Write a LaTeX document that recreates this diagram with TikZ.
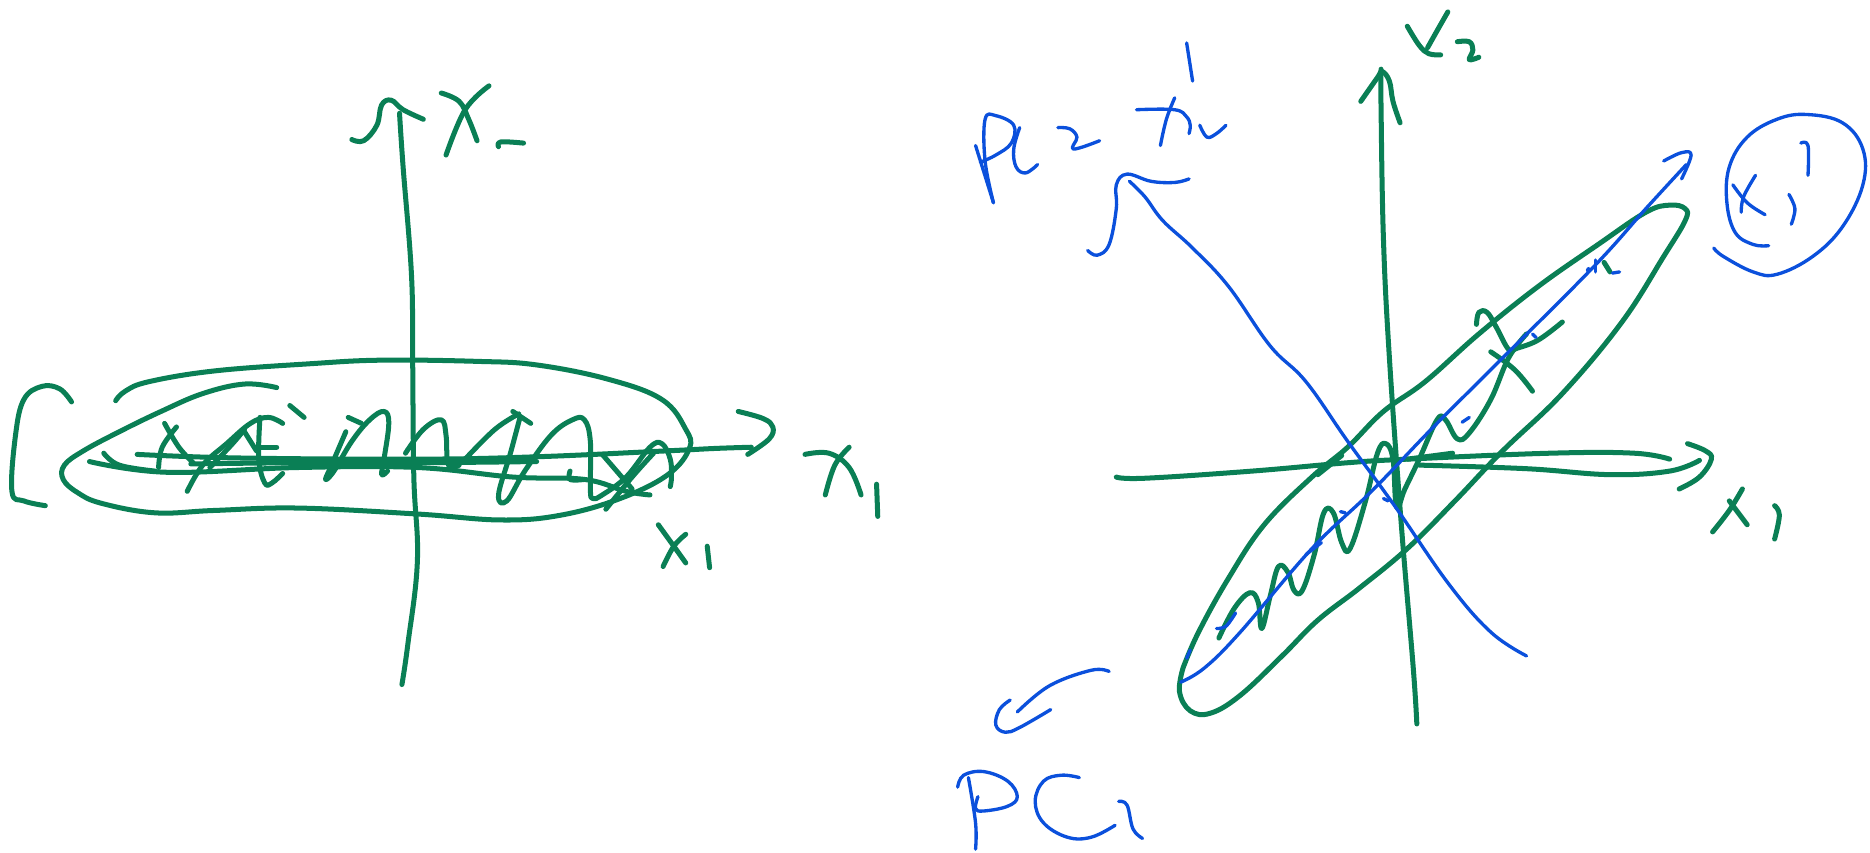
\documentclass[tikz,border=0pt]{standalone}
\definecolor{inkgreen}{HTML}{0A7F55}
\definecolor{inkblue}{HTML}{0B50DC}
\tikzset{
  greenink/.style={draw=inkgreen,line width=4.2pt,line cap=round,line join=round},
  blueink/.style={draw=inkblue,line width=2.8pt,line cap=round,line join=round}
}
\newcommand{\GS}[1]{\draw[greenink] plot[smooth,tension=0.65] coordinates {#1};}
\newcommand{\BS}[1]{\draw[blueink] plot[smooth,tension=0.65] coordinates {#1};}
\begin{document}
\begin{tikzpicture}[x=1pt,y=-1pt]
\useasboundingbox (0,0) rectangle (1568,715);
% ---- left figure: vertical axis
\GS{(337,574)(342,540)(350,470)(347,400)(346,300)(345,230)(338,140)(335,95)}
\GS{(295,117)(305,118)(316,105)(320,88)(328,84)(338,92)(355,100)}
\GS{(370,78)(385,85)(393,100)(400,118)}
\GS{(410,72)(390,92)(374,130)}
\GS{(418,123)(420,119)(439,120)}
% bracket
\GS{(60,337)(50,326)(35,324)(20,335)(13,365)(10,412)(20,420)(38,424)}
% ellipse
\GS{(232,325)(205,322)(170,330)(135,345)(100,362)(70,378)(54,390)(53,402)(65,413)(85,422)(130,430)(180,428)(250,426)(350,431)(420,436)(470,432)(520,418)(560,398)(578,376)(575,360)(555,335)(510,318)(450,306)(400,303)(320,302)(260,305)(180,311)(125,320)(105,328)(97,336)}
% horizontal axis strokes
\GS{(115,381)(200,384)(350,385)(450,383)(560,378)(600,376)(630,375)}
\GS{(75,387)(140,396)(250,392)(350,392)(430,400)(490,402)(525,412)(545,415)}
\GS{(87,380)(100,390)(130,395)}
\GS{(160,389)(250,388)(350,388)(450,387)}
\GS{(619,345)(640,351)(648,358)(645,368)(627,381)}
% zigzag and crosses
\GS{(138,355)(150,375)(162,388)}
\GS{(148,358)(136,375)(133,392)}
\GS{(157,412)(170,390)(190,372)(210,355)(225,350)(237,355)}
\GS{(218,350)(217,385)(222,405)(228,405)(237,397)}
\GS{(205,362)(215,378)}
\GS{(176,392)(195,372)(205,360)}
\GS{(215,375)(232,375)}
\GS{(243,340)(255,350)}
\GS{(292,350)(303,355)}
\GS{(290,362)(278,390)(273,402)(280,395)(295,370)(310,352)(322,345)(326,355)(322,385)(320,398)(325,395)}
\GS{(340,380)(355,360)(370,352)(374,365)(375,385)(378,392)(385,390)}
\GS{(390,385)(415,360)(435,347)}
\GS{(430,345)(445,355)}
\GS{(436,350)(428,380)(418,415)(425,420)(440,395)(462,365)(480,352)(490,352)(495,370)(495,410)(497,418)(505,415)(525,400)(545,375)(555,372)(562,385)(563,400)(562,408)}
\GS{(505,381)(530,410)}
\GS{(508,427)(530,400)(548,380)}
\GS{(478,395)(478,402)(490,402)}
% labels near axis
\GS{(552,440)(565,458)(575,472)}
\GS{(575,448)(565,458)(556,475)}
\GS{(593,458)(595,476)}
\GS{(675,381)(695,380)(712,392)(722,415)}
\GS{(712,375)(700,390)(692,415)}
\GS{(735,406)(736,433)}
% ---- right figure
\GS{(1188,607)(1185,560)(1175,440)(1165,300)(1160,200)(1158,90)(1158,58)}
\GS{(1141,85)(1155,65)(1159,60)(1165,68)(1168,85)(1174,103)}
\GS{(1180,22)(1190,38)(1198,45)(1208,46)}
\GS{(1214,10)(1206,24)(1197,40)}
\GS{(1222,35)(1232,35)(1235,42)(1232,50)(1240,48)}
\GS{(936,400)(960,401)(1050,395)(1130,388)(1180,385)(1300,380)(1370,380)(1400,385)}
\GS{(1190,390)(1280,393)(1350,398)(1400,395)(1425,386)}
\GS{(1415,372)(1430,378)(1435,385)(1425,400)(1408,410)}
\GS{(1461,410)(1450,428)(1436,446)}
\GS{(1450,420)(1465,440)}
\GS{(1488,424)(1492,432)(1488,452)}
% right ellipse
\GS{(992,560)(989,580)(998,596)(1015,598)(1040,583)(1075,550)(1105,520)(1140,493)(1180,460)(1220,420)(1260,378)(1310,330)(1360,270)(1395,215)(1413,185)(1413,175)(1400,172)(1380,178)(1340,205)(1290,240)(1240,280)(1195,320)(1160,345)(1130,375)(1100,400)(1060,440)(1030,485)(1005,530)(992,560)}
% right zigzag
\GS{(1022,535)(1035,510)(1048,497)(1055,505)(1058,527)(1065,500)(1072,475)(1080,480)(1085,495)(1092,495)(1102,465)(1110,430)(1118,430)(1125,455)(1132,460)(1145,420)(1155,380)(1162,372)(1168,385)(1171,425)(1178,410)(1190,385)(1205,352)(1212,352)(1222,368)(1232,363)(1250,335)(1265,300)(1280,280)}
\GS{(1238,272)(1240,262)(1247,262)(1255,275)(1265,293)(1272,292)(1290,285)(1310,270)}
\GS{(1250,295)(1270,310)(1285,328)}
\GS{(1105,398)(1125,382)}
\GS{(1180,385)(1218,380)}
\GS{(1345,220)(1350,228)}
% blue PC2 axis and arrow
\BS{(947,152)(960,165)(975,185)(1000,208)(1030,240)(1065,290)(1095,320)(1130,370)(1170,425)(1215,490)(1250,530)(1280,550)}
\BS{(912,210)(920,214)(930,205)(936,175)(936,155)(945,146)(965,152)(985,153)(997,150)}
% PC2 text strokes
\BS{(818,122)(833,170)}
\BS{(833,170)(826,135)(826,100)(835,97)(850,105)(848,120)(835,130)(822,136)}
\BS{(855,107)(850,125)(852,140)(860,145)(870,138)}
\BS{(887,107)(897,108)(903,115)(900,125)(922,118)}
\BS{(953,92)(985,92)(995,98)(998,105)(997,112)}
\BS{(985,82)(978,100)(973,122)}
\BS{(1006,105)(1012,115)(1020,112)(1028,105)}
\BS{(995,36)(1000,68)}
% blue PC1 axis and arrow
\BS{(990,572)(1010,560)(1040,530)(1100,460)(1150,412)(1200,360)(1250,310)(1335,225)(1380,175)(1414,138)}
\BS{(1395,135)(1410,128)(1418,130)(1410,150)}
\BS{(930,563)(915,562)(880,575)(853,597)}
\BS{(881,595)(855,610)(843,614)(835,608)(838,595)(847,587)}
% PC1 text strokes
\BS{(803,660)(808,650)(825,647)(845,655)(853,668)(845,676)(825,680)(818,678)(820,668)}
\BS{(812,652)(818,690)(818,712)}
\BS{(905,652)(890,650)(875,655)(868,672)(875,690)(895,702)(915,702)(935,692)}
\BS{(938,672)(945,675)(950,695)(958,703)}
% circled x1'
\BS{(1437,208)(1445,215)(1470,228)(1490,230)(1520,215)(1545,190)(1562,155)(1562,125)(1545,103)(1515,96)(1490,100)(1465,115)(1450,140)(1448,170)(1455,195)(1470,205)(1483,206)}
\BS{(1453,155)(1465,170)(1480,180)}
\BS{(1472,147)(1462,165)(1460,178)}
\BS{(1500,163)(1505,175)(1502,188)}
\BS{(1510,120)(1516,122)(1516,147)}
% small blue dashes
\BS{(1226,354)(1232,350)}
\BS{(1124,429)(1128,430)}
\BS{(1160,418)(1164,420)}
\BS{(1020,527)(1028,525)(1036,514)}
\BS{(1331,227)(1332,225)}
\BS{(1338,218)(1338,228)}
\BS{(1352,229)(1358,228)}
\BS{(1285,280)(1288,283)}
\BS{(1095,465)(1108,455)}
\BS{(995,552)(998,545)}
\end{tikzpicture}
\end{document}
